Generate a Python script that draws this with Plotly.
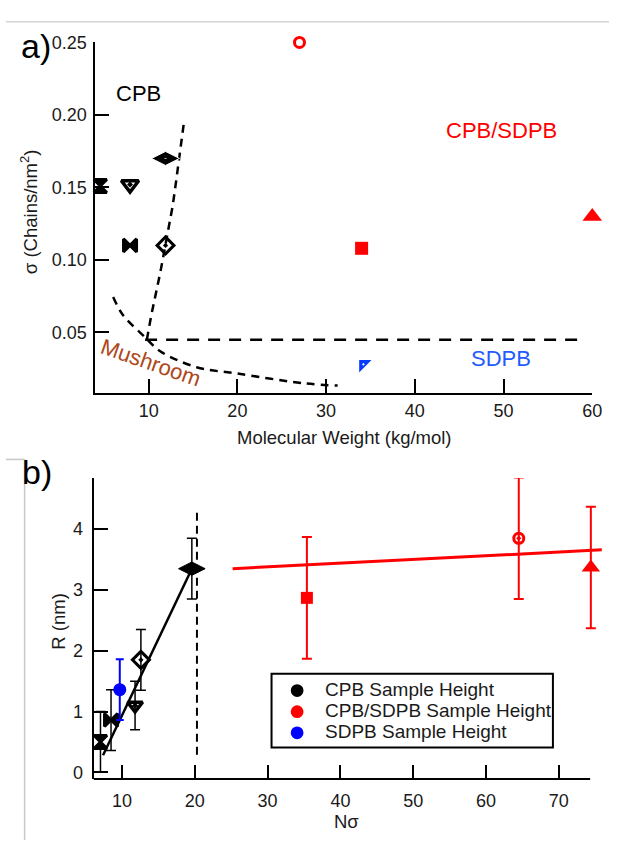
import plotly.graph_objects as go

# ---------------- data ----------------
# Panel a: grafting density vs molecular weight
cpb_mw = [4.55, 7.9, 7.9, 11.9, 11.9]
cpb_sigma = [0.151, 0.152, 0.110, 0.110, 0.170]
mix_mw = [27.0, 34.0, 60.0]
mix_sigma = [0.250, 0.108, 0.130]
sdpb_mw = [34.2]
sdpb_sigma = [0.028]

# regime boundaries (panel a)
brush_bound_mw = [9.8, 10.3, 11.3, 11.9, 12.7, 13.0, 13.4, 14.0]
brush_bound_sigma = [0.045, 0.062, 0.091, 0.110, 0.137, 0.150, 0.170, 0.196]
mushroom_bound_mw = [6.0, 7.1, 9.6, 11.3, 15.4, 20.0, 27.6, 31.3]
mushroom_bound_sigma = [0.0744, 0.062, 0.0466, 0.037, 0.026, 0.0216, 0.0148, 0.0133]
sdpb_bound_mw = [9.6, 58.6]
sdpb_bound_sigma = [0.045, 0.045]

# Panel b: brush height vs N*sigma
cpb_n = [7.05, 8.5, 11.8, 12.6, 19.6]
cpb_r = [0.50, 0.86, 1.10, 1.85, 3.35]
cpb_r_err = [0.5, 0.5, 0.4, 0.5, 0.5]
mix_n = [35.4, 64.5, 74.4]
mix_r = [2.87, 3.85, 3.37]
mix_r_err = [1.0, 1.0, 1.0]
sdpb_n = [9.7]
sdpb_r = [1.36]
sdpb_r_err = [0.5]

cpb_fit_n = [7.4, 19.6]
cpb_fit_r = [0.28, 3.35]
mix_fit_n = [25.2, 75.9]
mix_fit_r = [3.35, 3.66]
transition_n = [20.3, 20.3]
transition_r = [0.29, 4.35]

legend_labels = ["CPB Sample Height", "CPB/SDPB Sample Height", "SDPB Sample Height"]

# ---------------- styles ----------------
W, H = 619, 844
FONT = "Liberation Sans, Arial, sans-serif"
RED = "#ff0000"
BLUE = "#0000ff"
BLACK = "#000000"
TEXT = "#1a1a1a"

cpb_symbols_a = ["hourglass", "triangle-down-open-dot", "bowtie", "diamond-open-dot", "diamond-wide-dot"]
cpb_sizes_a = [13, 15, 13, 13, 20]
cpb_lines_a = [BLACK, BLACK, BLACK, BLACK, "white"]
cpb_widths_a = [3, 3.5, 3, 3, 1]
mix_symbols_a = ["circle-open", "square", "triangle-up"]
mix_sizes_a = [10, 13, 17]

cpb_symbols_b = ["hourglass", "bowtie", "triangle-down-open-dot", "diamond-open-dot", "diamond-wide"]
cpb_sizes_b = [13, 13, 13, 13, 19]
cpb_widths_b = [3, 3, 3.5, 3, 1]
mix_symbols_b = ["square", "circle-open-dot", "triangle-up"]
mix_sizes_b = [12, 10, 16]


def px(x):
    return x / W


def py(y):
    return 1 - y / H


fig = go.Figure()

# ---- panel a ----
fig.add_trace(go.Scatter(x=brush_bound_mw, y=brush_bound_sigma, mode="lines",
                         line=dict(color=BLACK, width=2.5, dash="8px,6px"),
                         xaxis="x", yaxis="y", showlegend=False))
fig.add_trace(go.Scatter(x=mushroom_bound_mw, y=mushroom_bound_sigma, mode="lines",
                         line=dict(color=BLACK, width=2.5, dash="8px,6px", shape="spline"),
                         xaxis="x", yaxis="y", showlegend=False))
fig.add_trace(go.Scatter(x=sdpb_bound_mw, y=sdpb_bound_sigma, mode="lines",
                         line=dict(color=BLACK, width=2.5, dash="12px,9px"),
                         xaxis="x", yaxis="y", showlegend=False))
fig.add_trace(go.Scatter(x=cpb_mw, y=cpb_sigma, mode="markers", cliponaxis=False,
                         marker=dict(symbol=cpb_symbols_a, size=cpb_sizes_a, color=BLACK,
                                     opacity=1,
                                     line=dict(color=cpb_lines_a, width=cpb_widths_a)),
                         xaxis="x", yaxis="y", showlegend=False))
fig.add_trace(go.Scatter(x=mix_mw, y=mix_sigma, mode="markers", cliponaxis=False,
                         marker=dict(symbol=mix_symbols_a, size=mix_sizes_a, color=RED,
                                     opacity=1,
                                     line=dict(color=RED, width=[3, 0, 0])),
                         xaxis="x", yaxis="y", showlegend=False))
fig.add_trace(go.Scatter(x=sdpb_mw, y=sdpb_sigma, mode="markers", cliponaxis=False,
                         marker=dict(symbol="triangle-nw-dot", size=16, color="#0a3cff",
                                     opacity=1, line=dict(color="white", width=1.2)),
                         xaxis="x", yaxis="y", showlegend=False))

# ---- panel b ----
fig.add_trace(go.Scatter(x=transition_n, y=transition_r, mode="lines",
                         line=dict(color=BLACK, width=2, dash="8px,5px"),
                         xaxis="x2", yaxis="y2", showlegend=False))
fig.add_trace(go.Scatter(x=cpb_fit_n, y=cpb_fit_r, mode="lines",
                         line=dict(color=BLACK, width=2.5),
                         xaxis="x2", yaxis="y2", showlegend=False))
fig.add_trace(go.Scatter(x=mix_fit_n, y=mix_fit_r, mode="lines",
                         line=dict(color=RED, width=3),
                         xaxis="x2", yaxis="y2", showlegend=False))
fig.add_trace(go.Scatter(x=cpb_n, y=cpb_r, mode="markers", cliponaxis=False,
                         error_y=dict(type="data", array=cpb_r_err, color=BLACK,
                                      thickness=1.5, width=5),
                         marker=dict(symbol=cpb_symbols_b, size=cpb_sizes_b, color=BLACK,
                                     opacity=1, line=dict(color=BLACK, width=cpb_widths_b)),
                         xaxis="x2", yaxis="y2", showlegend=False))
fig.add_trace(go.Scatter(x=mix_n, y=mix_r, mode="markers", cliponaxis=False,
                         error_y=dict(type="data", array=mix_r_err, color=RED,
                                      thickness=2, width=5),
                         marker=dict(symbol=mix_symbols_b, size=mix_sizes_b, color=RED,
                                     opacity=1, line=dict(color=RED, width=[0, 3, 0])),
                         xaxis="x2", yaxis="y2", showlegend=False))
fig.add_trace(go.Scatter(x=sdpb_n, y=sdpb_r, mode="markers", cliponaxis=False,
                         error_y=dict(type="data", array=sdpb_r_err, color=BLUE,
                                      thickness=2, width=4),
                         marker=dict(symbol="circle", size=13, color=BLUE, opacity=1),
                         xaxis="x2", yaxis="y2", showlegend=False))

axis_common = dict(showline=True, linecolor=BLACK, linewidth=2, ticks="inside",
                   ticklen=14, tickwidth=2, tickcolor=BLACK, showgrid=False,
                   zeroline=False, tickfont=dict(family=FONT, size=18, color=TEXT))

fig.update_layout(
    width=W, height=H, margin=dict(l=0, r=0, t=0, b=0),
    paper_bgcolor="white", plot_bgcolor="white", showlegend=False,
    xaxis=dict(domain=[px(97), px(602)], range=[4.0, 60.0], anchor="y",
               tickvals=[10, 20, 30, 40, 50, 60], ticklabelstandoff=1, **axis_common),
    yaxis=dict(domain=[py(389), py(33)], range=[0.0085, 0.25], anchor="x",
               tickvals=[0.05, 0.10, 0.15, 0.20, 0.25], tickformat=".2f",
               ticklabelstandoff=3, **axis_common),
    xaxis2=dict(domain=[px(95.1), px(612.4)], range=[6.1, 76.0], anchor="y2",
                tickvals=[10, 20, 30, 40, 50, 60, 70], ticklabelstandoff=9,
                **{**axis_common, "showline": False}),
    yaxis2=dict(domain=[py(782), py(476)], range=[-0.11, 4.84], anchor="x2",
                tickvals=[0, 1, 2, 3, 4], ticklabelstandoff=5, **axis_common),
)

shapes = [
    # bottom axis line of panel b stops just past the last tick
    dict(type="line", xref="x2", yref="y2 domain", x0=6.1, x1=74.3, y0=0, y1=0,
         line=dict(color=BLACK, width=2)),
    # thin frame lines around the panels
    dict(type="line", xref="paper", yref="paper", x0=px(6), x1=1, y0=py(12), y1=py(12),
         line=dict(color="#d4d4d4", width=1.5)),
    dict(type="line", xref="paper", yref="paper", x0=px(6), x1=px(25), y0=py(457), y1=py(457),
         line=dict(color="#c8c8c8", width=1.5)),
    dict(type="line", xref="paper", yref="paper", x0=px(25), x1=px(25), y0=py(457), y1=0,
         line=dict(color="#c8c8c8", width=1.5)),
    # legend box
    dict(type="rect", xref="paper", yref="paper", x0=px(276), x1=px(562), y0=py(750), y1=py(675),
         line=dict(color=BLACK, width=2), fillcolor="white", layer="above"),
]
legend_colors = [BLACK, RED, BLUE]
legend_rows = [692, 713.5, 735]
for c, yy in zip(legend_colors, legend_rows):
    shapes.append(dict(type="circle", xref="paper", yref="paper",
                       x0=px(295.5), x1=px(308.5), y0=py(yy + 6.5), y1=py(yy - 6.5),
                       fillcolor=c, line=dict(color=c, width=0), layer="above"))
fig.update_layout(shapes=shapes)

annotations = [
    dict(text="a)", x=px(37), y=py(37), font=dict(size=34, color=BLACK)),
    dict(text="b)", x=px(38), y=py(470), font=dict(size=34, color=BLACK)),
    dict(text="CPB", x=px(141), y=py(85), font=dict(size=22, color=BLACK)),
    dict(text="CPB/SDPB", x=px(510), y=py(123), font=dict(size=22, color=RED)),
    dict(text="SDPB", x=px(509), y=py(354), font=dict(size=22, color="#1f5cff")),
    dict(text="Mushroom", x=px(153), y=py(358), textangle=19,
         font=dict(size=22, color="#b0461a")),
    dict(text="Molecular Weight (kg/mol)", x=px(350), y=py(435),
         font=dict(size=18.5, color=TEXT)),
    dict(text="σ (Chains/nm<sup>2</sup>)", x=px(29), y=py(205), textangle=-90,
         font=dict(size=18.5, color=TEXT)),
    dict(text="Nσ", x=px(352), y=py(825), font=dict(size=18.5, color=TEXT)),
    dict(text="R (nm)", x=px(60), y=py(622), textangle=-90,
         font=dict(size=18.5, color=TEXT)),
]
for lab, yy in zip(legend_labels, legend_rows):
    annotations.append(dict(text=lab, x=px(328), y=py(yy - 1), xanchor="left",
                            font=dict(size=19, color=TEXT)))
for a in annotations:
    a.setdefault("xref", "paper")
    a.setdefault("yref", "paper")
    a.setdefault("showarrow", False)
    a.setdefault("xanchor", "center")
    a.setdefault("yanchor", "middle")
    a["font"]["family"] = FONT
fig.update_layout(annotations=annotations)

fig.write_html("out.html")
